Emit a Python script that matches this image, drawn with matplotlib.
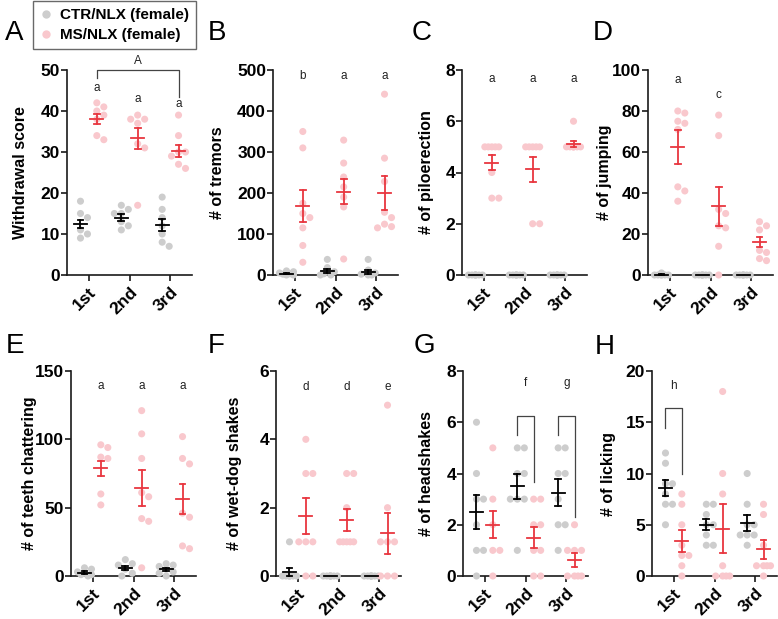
import numpy as np
import matplotlib
matplotlib.use("Agg")
import matplotlib.pyplot as plt
from matplotlib.lines import Line2D

plt.rcParams['font.family'] = ['Liberation Sans', 'DejaVu Sans']

sessions = ['1st', '2nd', '3rd']

# A - withdrawal score
wd_ctr = [[18, 15, 14, 11, 10, 9], [17, 16, 15, 15, 13, 12, 11], [19, 16, 14, 12, 10, 8, 7]]
wd_ms = [[42, 41, 40, 39, 38, 34, 33], [39, 38, 38, 37, 32, 31, 17], [39, 34, 30, 30, 29, 27, 26]]
wd_ctr_mean, wd_ctr_sem = [12.5, 14.0, 12.2], [1.0, 0.8, 1.5]
wd_ms_mean, wd_ms_sem = [38.0, 33.3, 30.3], [1.2, 2.6, 1.4]

# B - tremors
tr_ctr = [[10, 8, 5, 3, 2, 0, 0], [38, 18, 8, 3, 0, 0], [38, 12, 5, 2, 0, 0]]
tr_ms = [[350, 310, 175, 150, 140, 115, 72, 31], [329, 273, 239, 215, 190, 166, 39],
         [441, 285, 228, 153, 140, 124, 118, 115]]
tr_ctr_mean, tr_ctr_sem = [3, 10, 7], [1.5, 5, 4]
tr_ms_mean, tr_ms_sem = [168, 203, 200], [39, 31, 41]

# C - piloerection
pilo_ctr = [[0] * 7, [0] * 7, [0] * 7]
pilo_ms = [[5, 5, 5, 5, 5, 4, 3, 3], [5, 5, 5, 5, 5, 2, 2], [6, 5, 5, 5, 5, 5, 5, 5]]
pilo_ctr_mean, pilo_ctr_sem = [0, 0, 0], [0, 0, 0]
pilo_ms_mean, pilo_ms_sem = [4.38, 4.12, 5.12], [0.3, 0.5, 0.12]

# D - jumping
jump_ctr = [[1, 0, 0, 0, 0, 0, 0], [0] * 7, [0] * 7]
jump_ms = [[80, 79, 75, 74, 71, 43, 41, 36], [78, 68, 32, 30, 24, 23, 14, 0], [26, 24, 22, 12, 11, 8, 7]]
jump_ctr_mean, jump_ctr_sem = [0.2, 0, 0], [0.2, 0, 0]
jump_ms_mean, jump_ms_sem = [62.4, 33.5, 16.0], [8.2, 9.5, 2.5]

# E - teeth chattering
teeth_ctr = [[6, 5, 3, 2, 1, 1, 0], [12, 9, 8, 5, 2, 0], [9, 8, 7, 5, 3, 2, 0]]
teeth_ms = [[96, 94, 87, 86, 60, 52], [121, 104, 86, 61, 58, 42, 40, 6], [102, 86, 82, 46, 43, 22, 20]]
teeth_ctr_mean, teeth_ctr_sem = [2.5, 6.0, 5.0], [1.0, 1.5, 1.2]
teeth_ms_mean, teeth_ms_sem = [79.0, 64.5, 56.2], [5.5, 13.0, 11.0]

# F - wet-dog shakes
wds_ctr = [[1, 0, 0, 0, 0, 0, 0, 0], [0] * 8, [0] * 8]
wds_ms = [[4, 3, 3, 1, 1, 1, 0, 0], [3, 3, 2, 1, 1, 1, 1, 1], [5, 2, 1, 1, 1, 0, 0, 0]]
wds_ctr_mean, wds_ctr_sem = [0.12, 0, 0], [0.12, 0, 0]
wds_ms_mean, wds_ms_sem = [1.75, 1.63, 1.25], [0.52, 0.32, 0.6]

# G - headshakes
hs_ctr = [[6, 4, 3, 3, 2, 1, 1, 0], [5, 5, 4, 4, 3, 3, 3, 1], [5, 5, 4, 4, 3, 2, 2, 1]]
hs_ms = [[5, 3, 2, 1, 1, 0], [3, 3, 2, 2, 1, 1, 0, 0], [2, 1, 1, 1, 0, 0, 0, 0]]
hs_ctr_mean, hs_ctr_sem = [2.5, 3.5, 3.25], [0.67, 0.48, 0.53]
hs_ms_mean, hs_ms_sem = [2.0, 1.5, 0.62], [0.52, 0.42, 0.26]

# H - licking
lick_ctr = [[12, 11, 9, 9, 8, 7, 7, 5], [7, 7, 6, 5, 5, 4, 3, 3], [10, 7, 5, 5, 4, 4, 4, 3]]
lick_ms = [[8, 7, 5, 3, 2, 2, 1, 0], [18, 10, 8, 1, 0, 0, 0, 0], [7, 6, 3, 1, 1, 1, 1, 0]]
lick_ctr_mean, lick_ctr_sem = [8.6, 5.0, 5.2], [0.8, 0.55, 0.8]
lick_ms_mean, lick_ms_sem = [3.4, 4.6, 2.6], [1.05, 2.4, 0.9]

GRAY = '#cdcdcd'
PINK = '#f9c8cd'
RED = '#e8363f'
INK = '#1a1a1a'
OFF = 0.2

W, H = 778, 619
fig = plt.figure(figsize=(W / 100, H / 100), dpi=100)


def swarm_x(ax, x0, vals, sep=7.0, max_off=7.0):
    pts = ax.transData.transform([(x0, v) for v in vals])
    step = sep / 2
    cands = [0.0]
    k = 1
    while k * step <= max_off + 1e-9:
        cands += [k * step, -k * step]
        k += 1
    placed = []
    out = np.zeros(len(vals))
    for i in np.argsort(vals)[::-1]:
        px, py = pts[i]
        best, best_d = 0.0, -1
        for c in cands:
            if placed:
                d = min(np.hypot(px + c - qx, py - qy) for qx, qy in placed)
            else:
                d = np.inf
            if d >= sep:
                best = c
                break
            if d > best_d:
                best_d, best = d, c
        placed.append((px + best, py))
        out[i] = ax.transData.inverted().transform((px + best, py))[0]
    return out


def mean_sem(ax, x, m, s, color):
    ax.plot([x - 0.16, x + 0.16], [m, m], color=color, lw=1.3, zorder=5, clip_on=False)
    if s > 0:
        ax.plot([x, x], [m - s, m + s], color=color, lw=1.3, zorder=5, clip_on=False)
        for yy in (m - s, m + s):
            ax.plot([x - 0.07, x + 0.07], [yy, yy], color=color, lw=1.3, zorder=5, clip_on=False)


def panel(left, bottom, ctr, ms, cm, cs, mm, msem, ymax, yticks, ylabel, lab_x):
    ax = fig.add_axes([left / W, 1 - bottom / H, 125 / W, 205 / H])
    ax.set_xlim(-0.53, 2.53)
    ax.set_ylim(0, ymax)
    for sp in ('top', 'right'):
        ax.spines[sp].set_visible(False)
    for sp in ('left', 'bottom'):
        ax.spines[sp].set_linewidth(1.2)
        ax.spines[sp].set_color(INK)
    ax.set_yticks(yticks)
    ax.set_xticks(range(3))
    ax.set_xticklabels(sessions, rotation=45, ha='right', rotation_mode='anchor',
                       fontsize=12, fontweight='bold')
    ax.tick_params(axis='both', length=4, width=1.2, color=INK, labelsize=12.5)
    ax.tick_params(axis='y', pad=1)
    ax.tick_params(axis='x', pad=3)
    for t in ax.get_yticklabels():
        t.set_fontweight('bold')
    ax.set_ylabel(ylabel, fontsize=11.5, fontweight='bold', va='center')
    ax.yaxis.set_label_coords(lab_x, 0.5)
    for i in range(3):
        xc = swarm_x(ax, i - OFF, ctr[i])
        ax.scatter(xc, ctr[i], s=26, color=GRAY, edgecolors='none', zorder=3, clip_on=False)
        xm = swarm_x(ax, i + OFF, ms[i])
        ax.scatter(xm, ms[i], s=26, color=PINK, edgecolors='none', zorder=3, clip_on=False)
        mean_sem(ax, i - OFF, cm[i], cs[i], 'black')
        mean_sem(ax, i + OFF, mm[i], msem[i], RED)
    return ax


def letters(ax, labels, fracs, dx):
    for i, (lab, fr) in enumerate(zip(labels, fracs)):
        if lab:
            ax.text(i + dx, fr * ax.get_ylim()[1], lab, ha='center', va='center',
                    fontsize=8.5, color='#222222')


def bracket(ax, x1, x2, top, y1, y2):
    ax.plot([x1, x1, x2, x2], [y1, top, top, y2], color='#444444', lw=0.9, clip_on=False)


axA = panel(67, 275, wd_ctr, wd_ms, wd_ctr_mean, wd_ctr_sem, wd_ms_mean, wd_ms_sem,
            50, [0, 10, 20, 30, 40, 50], 'Withdrawal score', -0.37)
axB = panel(273, 275, tr_ctr, tr_ms, tr_ctr_mean, tr_ctr_sem, tr_ms_mean, tr_ms_sem,
            500, [0, 100, 200, 300, 400, 500], '# of tremors', -0.44)
axC = panel(462, 275, pilo_ctr, pilo_ms, pilo_ctr_mean, pilo_ctr_sem, pilo_ms_mean, pilo_ms_sem,
            8, [0, 2, 4, 6, 8], '# of piloerection', -0.28)
axD = panel(648, 275, jump_ctr, jump_ms, jump_ctr_mean, jump_ctr_sem, jump_ms_mean, jump_ms_sem,
            100, [0, 20, 40, 60, 80, 100], '# of jumping', -0.345)
axE = panel(71, 576, teeth_ctr, teeth_ms, teeth_ctr_mean, teeth_ctr_sem, teeth_ms_mean, teeth_ms_sem,
            150, [0, 50, 100, 150], '# of teeth chattering', -0.33)
axF = panel(276, 576, wds_ctr, wds_ms, wds_ctr_mean, wds_ctr_sem, wds_ms_mean, wds_ms_sem,
            6, [0, 2, 4, 6], '# of wet-dog shakes', -0.33)
axG = panel(463, 576, hs_ctr, hs_ms, hs_ctr_mean, hs_ctr_sem, hs_ms_mean, hs_ms_sem,
            8, [0, 2, 4, 6, 8], '# of headshakes', -0.29)
axH = panel(652, 576, lick_ctr, lick_ms, lick_ctr_mean, lick_ctr_sem, lick_ms_mean, lick_ms_sem,
            20, [0, 5, 10, 15, 20], '# of licking', -0.35)

# significance letters
letters(axA, ['a', 'a', 'a'], [0.912, 0.859, 0.834], OFF)
letters(axB, ['b', 'a', 'a'], [0.97, 0.97, 0.97], OFF)
letters(axC, ['a', 'a', 'a'], [0.956, 0.956, 0.956], OFF)
letters(axD, ['a', 'c', ''], [0.951, 0.878, 0], OFF)
letters(axE, ['a', 'a', 'a'], [0.927, 0.927, 0.927], OFF)
letters(axF, ['d', 'd', 'e'], [0.922, 0.922, 0.922], OFF)
letters(axG, ['', 'f', 'g'], [0, 0.941, 0.941], 0)
letters(axH, ['h', '', ''], [0.927, 0, 0], 0)

bracket(axA, OFF, 2 + OFF, 50, 48, 43.4)
axA.text(1 + OFF, 52.3, 'A', ha='center', va='center', fontsize=8.5, color='#222222')
bracket(axG, 1 - OFF, 1 + OFF, 6.24, 5.5, 3.67)
bracket(axG, 2 - OFF, 2 + OFF, 6.24, 5.5, 2.3)
bracket(axH, -OFF, OFF, 16.4, 14.4, 9.95)

# panel letters
for lab, x, y in [('A', 5, 40), ('B', 208, 40), ('C', 412, 40), ('D', 593, 40),
                  ('E', 6, 353), ('F', 208, 353), ('G', 414, 353), ('H', 595, 354)]:
    fig.text(x / W, 1 - y / H, lab, fontsize=20, va='baseline', ha='left')

# legend
handles = [Line2D([], [], ls='none', marker='o', ms=6, mfc=GRAY, mec='none'),
           Line2D([], [], ls='none', marker='o', ms=6, mfc=PINK, mec='none')]
leg = fig.legend(handles, ['CTR/NLX (female)', 'MS/NLX (female)'], loc='upper left',
                 bbox_to_anchor=(33 / W, 1 - 1 / H), frameon=True, fancybox=False,
                 handlelength=0.8, handletextpad=0.5, borderpad=0.45, labelspacing=0.4,
                 borderaxespad=0, prop={'weight': 'bold', 'size': 11})
leg.get_frame().set_edgecolor('#444444')
leg.get_frame().set_linewidth(1.0)

fig.savefig('out.png', dpi=100)
